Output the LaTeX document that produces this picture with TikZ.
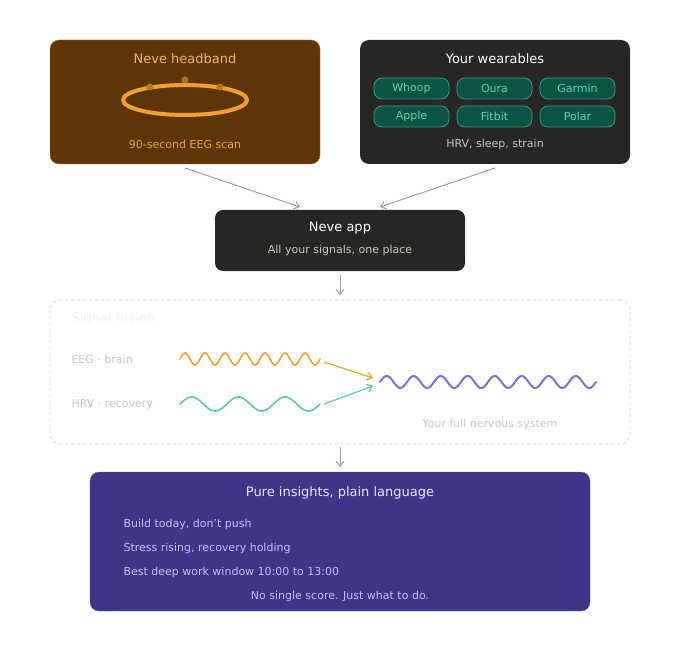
\documentclass[tikz,border=0pt]{standalone}
\usepackage{fontspec}
\setmainfont{DejaVu Sans}
\usetikzlibrary{arrows.meta}
\definecolor{hbfill}{HTML}{5E3508}\definecolor{hbline}{HTML}{B06A14}
\definecolor{orng}{HTML}{F0A030}\definecolor{dkor}{HTML}{B8761C}
\definecolor{dark}{HTML}{262624}\definecolor{chipf}{HTML}{0B5345}
\definecolor{chipl}{HTML}{3A9A7A}\definecolor{chipt}{HTML}{63D3AA}
\definecolor{grayt}{HTML}{C8C6C0}\definecolor{arr}{HTML}{9A9893}
\definecolor{teal}{HTML}{5CCBA4}\definecolor{purp}{HTML}{7B6FD8}
\definecolor{insf}{HTML}{3D3587}\definecolor{inst}{HTML}{EAE7FF}\definecolor{insb}{HTML}{C6C0F2}
\begin{document}
\begin{tikzpicture}[x=1pt,y=-1pt,
 title/.style={font=\fontsize{13}{15}\selectfont},
 body/.style={font=\fontsize{11}{13}\selectfont},
 conn/.style={arr,line width=0.9pt,-{Straight Barb[length=5pt,width=8pt]}},
 chip/.style={draw=chipl,fill=chipf,rounded corners=8pt,minimum width=75pt,minimum height=21pt,text=chipt,font=\fontsize{11}{13}\selectfont,line width=0.8pt},
 wave/.style={line width=1.6pt,line cap=round}]
\useasboundingbox (0,0) rectangle (680,655);
\node[draw=hbline,fill=hbfill,rounded corners=9pt,minimum width=270pt,minimum height=124pt] (hb) at (185,102) {};
\node[title,text=orng!80!white] (hbt) at (185,59) {Neve headband};
\draw[orng,line width=4pt] (185,100) ellipse [x radius=62, y radius=15];
\foreach \p in {(150,87),(185,80),(220,87)} \fill[dkor] \p circle (3.5);
\node[body,text=orng] (hbs) at (185,144) {90-second EEG scan};
\node[fill=dark,rounded corners=9pt,minimum width=270pt,minimum height=124pt] (wb) at (495,102) {};
\node[title,text=white] (wbt) at (495,59) {Your wearables};
\node[chip] (c1) at (411.5,88.5) {Whoop};
\node[chip] (c2) at (494.5,88.5) {Oura};
\node[chip] (c3) at (577.5,88.5) {Garmin};
\node[chip] (c4) at (411.5,116.5) {Apple};
\node[chip] (c5) at (494.5,116.5) {Fitbit};
\node[chip] (c6) at (577.5,116.5) {Polar};
\node[body,text=grayt] (wbs) at (495,144) {HRV, sleep, strain};
\node[fill=dark,rounded corners=8pt,minimum width=250pt,minimum height=61pt] (app) at (340,240.5) {};
\node[title,text=white] (appt) at (340,228) {Neve app};
\node[body,text=grayt] (apps) at (340,250) {All your signals, one place};
\coordinate (a1) at (185,168); \coordinate (a2) at (495,168);
\coordinate (b1) at (300,207); \coordinate (b2) at (380,207);
\draw[conn] (a1) -- (b1); \draw[conn] (a2) -- (b2);
\coordinate (a3) at (340,275); \coordinate (b3) at (340,295);
\draw[conn] (a3) -- (b3);
\node[draw=black!15,dashed,line width=0.8pt,rounded corners=10pt,minimum width=580pt,minimum height=144pt] (fus) at (340,372) {};
\node[title,text=black!5,anchor=west] (fust) at (68,319) {Signal fusion};
\node[body,text=grayt,anchor=west] (eeg) at (68,359) {EEG · brain};
\node[body,text=grayt,anchor=west] (hrv) at (68,405) {HRV · recovery};
\draw[wave,orng] plot[domain=0:140,samples=200] ({180+\x},{359-6*sin(\x/20*360)});
\draw[wave,teal] plot[domain=0:140,samples=200] ({180+\x},{404-7*sin(\x/46.7*360)});
\draw[wave,purp,line width=2pt] plot[domain=0:216,samples=250] ({380+\x},{382-6*sin(\x/27*360)});
\coordinate (e1) at (324,362); \coordinate (e2) at (373,378);
\coordinate (h1) at (324,404); \coordinate (h2) at (373,386);
\draw[orng,line width=1.2pt,-{Straight Barb[length=5pt,width=8pt]}] (e1) -- (e2);
\draw[teal,line width=1.2pt,-{Straight Barb[length=5pt,width=8pt]}] (h1) -- (h2);
\node[body,text=grayt] (full) at (490,424) {Your full nervous system};
\coordinate (a4) at (340,447); \coordinate (b4) at (340,467);
\draw[conn] (a4) -- (b4);
\node[fill=insf,draw=insf!80!white,rounded corners=9pt,minimum width=500pt,minimum height=139pt] (ins) at (340,541.5) {};
\node[title,text=inst] (inst) at (340,493) {Pure insights, plain language};
\node[body,text=insb,anchor=west] (i1) at (120,524) {Build today, don't push};
\node[body,text=insb,anchor=west] (i2) at (120,548) {Stress rising, recovery holding};
\node[body,text=insb,anchor=west] (i3) at (120,572) {Best deep work window 10:00 to 13:00};
\node[body,text=insb] (i4) at (340,596) {No single score. Just what to do.};
\end{tikzpicture}
\end{document}
